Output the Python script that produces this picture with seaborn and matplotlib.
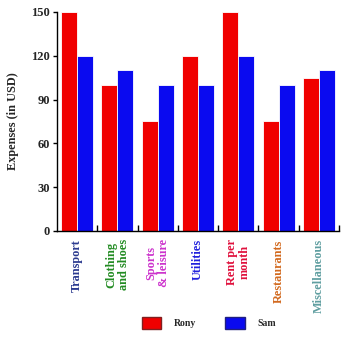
import matplotlib
matplotlib.use("Agg")
import matplotlib.pyplot as plt
import seaborn as sns
import pandas as pd
from matplotlib.ticker import FixedLocator
from matplotlib.patches import Patch

categories = ["Transport", "Clothing\nand shoes", "Sports\n& leisure", "Utilities",
              "Rent per\nmonth", "Restaurants", "Miscellaneous"]
rony = [150, 100, 75, 120, 150, 75, 105]
sam = [120, 110, 100, 100, 120, 100, 110]
series_names = ["Rony", "Sam"]
yticks = [0, 30, 60, 90, 120, 150]
label_colors = ["#2b3a8f", "#228b22", "#cc33cc", "#2020dd", "#e0103c", "#d2691e", "#5f9ea0"]
bar_colors = ["#f00000", "#0a0af0"]

df = pd.DataFrame({
    "category": categories * 2,
    "person": [series_names[0]] * len(categories) + [series_names[1]] * len(categories),
    "value": rony + sam,
})

sns.set_style("white")
plt.rcParams["font.family"] = ["Liberation Serif", "DejaVu Serif"]
plt.rcParams["font.weight"] = "bold"

fig = plt.figure(figsize=(3.6, 3.41), dpi=100)
ax = fig.add_axes([0.158, 0.3226, 0.784, 0.6424])
sns.barplot(data=df, x="category", y="value", hue="person", order=categories,
            hue_order=series_names, palette=bar_colors, saturation=1,
            edgecolor="white", linewidth=0.6, width=0.8, ax=ax, legend=False)

ax.set_ylim(0, 150)
ax.set_xlim(-0.5, 6.5)
ax.set_yticks(yticks)
ax.set_yticklabels([str(t) for t in yticks], fontsize=9, fontweight="bold")
ax.set_ylabel("Expenses (in USD)", fontsize=8.8, fontweight="bold", labelpad=9)
ax.set_xlabel("")
ax.set_xticks(range(len(categories)))
ax.set_xticklabels(categories, rotation=90, ha="center", va="top",
                   fontsize=8.8, fontweight="bold", multialignment="center",
                   linespacing=1.1)
for lbl, c in zip(ax.get_xticklabels(), label_colors):
    lbl.set_color(c)
ax.tick_params(axis="x", which="major", length=0, pad=6)
ax.xaxis.set_minor_locator(FixedLocator([i + 0.5 for i in range(len(categories))]))
ax.tick_params(axis="x", which="minor", direction="in", length=4, width=1, color="black", bottom=True)
ax.tick_params(axis="y", which="major", direction="out", length=3, width=1, color="black", left=True, pad=2)

for s in ["top", "right"]:
    ax.spines[s].set_visible(False)
for s in ["left", "bottom"]:
    ax.spines[s].set_color("black")
    ax.spines[s].set_linewidth(1)

handles = [Patch(facecolor=bar_colors[0], edgecolor="#802020", label=series_names[0]),
           Patch(facecolor=bar_colors[1], edgecolor="#202080", label=series_names[1])]
fig.legend(handles=handles, loc="center", bbox_to_anchor=(0.58, 0.053), ncol=2,
           frameon=False, prop={"size": 7, "weight": "bold"}, handlelength=2.0,
           handleheight=1.4, columnspacing=3.0, handletextpad=1.3)

fig.savefig("out.png", dpi=100)
